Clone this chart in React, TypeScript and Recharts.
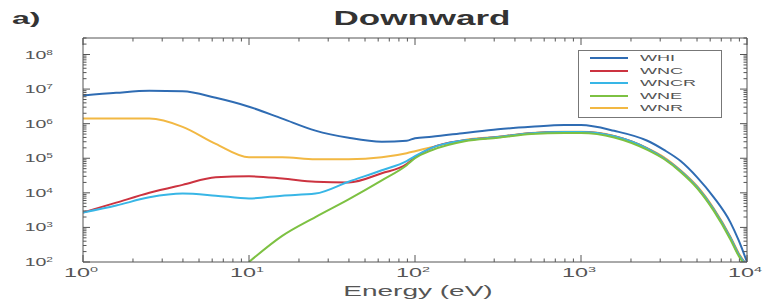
import React from 'react';
import { LineChart, Line, XAxis, YAxis, Legend } from 'recharts';

// energy grid (eV) and downward flux per model
const energy = [
  1, 1.585, 2.512, 3.981, 6.31, 10, 15.85, 25.12, 39.81, 63.1, 89.1, 100, 125.9, 199.5,
  316.2, 501.2, 794.3, 1000, 1585, 2512, 3162, 3981, 5012, 6310, 7943, 8913, 10000,
];
const fluxWHI = [
  6.5e6, 7.8e6, 8.9e6, 8.7e6, 5.6e6, 3.1e6, 1.4e6, 6.3e5, 3.9e5, 3.0e5, 3.2e5, 3.8e5, 4.2e5, 5.4e5,
  6.9e5, 8.1e5, 9.1e5, 9.1e5, 6.2e5, 3.2e5, 1.74e5, 8.3e4, 2.8e4, 7.4e3, 1.4e3, 4.2e2, 1.0e2,
];
const fluxWNC = [
  2.7e3, 5.2e3, 1.0e4, 1.7e4, 2.8e4, 3.0e4, 2.6e4, 2.1e4, 2.0e4, 3.7e4, 6.8e4, 1.07e5, 2.0e5, 3.3e5,
  4.1e5, 5.3e5, 5.7e5, 5.7e5, 4.3e5, 1.9e5, 1.0e5, 4.3e4, 1.45e4, 3.3e3, 5.0e2, 1.65e2, 8.0e1,
];
const fluxWNCR = [
  2.7e3, 4.3e3, 7.4e3, 9.5e3, 8.3e3, 6.9e3, 8.3e3, 9.5e3, 2.1e4, 4.5e4, 8.3e4, 1.15e5, 2.0e5, 3.3e5,
  4.1e5, 5.3e5, 5.7e5, 5.7e5, 4.3e5, 1.9e5, 1.0e5, 4.3e4, 1.45e4, 3.3e3, 5.0e2, 1.65e2, 8.0e1,
];
const fluxWNE = [
  null, null, null, null, null, 1.0e2, 5.7e2, 2.0e3, 6.5e3, 2.3e4, 6.3e4, 1.0e5, 1.7e5, 3.1e5,
  3.9e5, 5.0e5, 5.4e5, 5.4e5, 4.0e5, 1.75e5, 9.5e4, 4.0e4, 1.35e4, 3.0e3, 4.5e2, 1.5e2, 7.0e1,
];
const fluxWNR = [
  1.4e6, 1.4e6, 1.4e6, 8.1e5, 2.6e5, 1.07e5, 1.07e5, 9.4e4, 9.4e4, 1.07e5, 1.4e5, 1.6e5, 2.1e5, 3.4e5,
  4.2e5, 5.4e5, 5.8e5, 5.8e5, 4.4e5, 1.95e5, 1.07e5, 4.5e4, 1.55e4, 3.5e3, 5.4e2, 1.8e2, 8.0e1,
];

const seriesNames = ['WHI', 'WNC', 'WNCR', 'WNE', 'WNR'];
const seriesColors = ['#2f6cb3', '#cc3340', '#38b6e6', '#7dc142', '#f2b843'];
const seriesValues = [fluxWHI, fluxWNC, fluxWNCR, fluxWNE, fluxWNR];
// drawing order: WHI last so it sits on top
const drawOrder = [4, 1, 2, 3, 0];

const xDecades = [0, 1, 2, 3, 4];
const yDecades = [2, 3, 4, 5, 6, 7, 8];

const data = energy.map((e, i) => {
  const row: any = { energy: e };
  seriesNames.forEach((n, k) => (row[n] = seriesValues[k][i]));
  return row;
});

function logTicks(decades: number[], extra: number[] = []) {
  const out: number[] = [];
  decades.forEach((d, i) => {
    const base = Math.pow(10, d);
    out.push(base);
    if (i < decades.length - 1) for (let m = 2; m <= 9; m++) out.push(m * base);
  });
  return out.concat(extra);
}
const xTicks = logTicks(xDecades);
const yTicks = logTicks(yDecades, [2e8, 3e8]);

const FONT = '"Liberation Sans", Arial, sans-serif';
const AXIS = '#555';

const isMajor = (v: number) => Math.abs(Math.log10(v) - Math.round(Math.log10(v))) < 1e-6;
const expOf = (v: number) => Math.round(Math.log10(v));

function BottomTick(props: any) {
  const { x, y, payload } = props;
  const v = payload.value;
  const major = isMajor(v);
  return (
    <g>
      <line x1={x} y1={y} x2={x} y2={y - (major ? 7 : 3.5)} stroke={AXIS} />
      {major && (
        <text transform={`translate(${x - 2},${y + 15}) scale(1.8,1)`} textAnchor="middle" fontSize={13} fill="#555" fontFamily={FONT}>
          10<tspan dy={-5} fontSize={8}>{expOf(v)}</tspan>
        </text>
      )}
    </g>
  );
}

function TopTick(props: any) {
  const { x, y, payload } = props;
  const major = isMajor(payload.value);
  return <line x1={x} y1={y} x2={x} y2={y + (major ? 7 : 3.5)} stroke={AXIS} />;
}

function LeftTick(props: any) {
  const { x, y, payload } = props;
  const v = payload.value;
  const major = isMajor(v);
  return (
    <g>
      <line x1={x} y1={y} x2={x + (major ? 7 : 3.5)} y2={y} stroke={AXIS} />
      {major && (
        <text transform={`translate(${x - 30},${y + 4}) scale(1.7,1)`} textAnchor="end" fontSize={11.5} fill="#555" fontFamily={FONT}>
          10<tspan dy={-4} fontSize={7}>{expOf(v)}</tspan>
        </text>
      )}
    </g>
  );
}

function RightTick(props: any) {
  const { x, y, payload } = props;
  const major = isMajor(payload.value);
  return <line x1={x} y1={y} x2={x - (major ? 7 : 3.5)} y2={y} stroke={AXIS} />;
}

function LegendBox() {
  return (
    <div style={{ width: 144, height: 68, border: '1px solid #777', boxSizing: 'border-box', background: '#fff', position: 'relative' }}>
      {seriesNames.map((n, i) => (
        <div key={n} style={{ position: 'absolute', left: 0, top: 1 + i * 12.5, height: 12, width: '100%' }}>
          <svg width={60} height={12} style={{ position: 'absolute', left: 0, top: 0 }}>
            <line x1={11} x2={49} y1={6} y2={6} stroke={seriesColors[i]} strokeWidth={2} />
          </svg>
          <span
            style={{
              position: 'absolute', left: 61, top: 0, fontSize: 9.5, lineHeight: '12px', color: '#555',
              fontFamily: FONT, transform: 'scaleX(1.9)', transformOrigin: 'left center', whiteSpace: 'nowrap',
            }}
          >
            {n}
          </span>
        </div>
      ))}
    </div>
  );
}

export default function App() {
  return (
    <div style={{ position: 'absolute', left: 0, top: 0, width: 765, height: 304, background: '#fff', fontFamily: FONT }}>
      <LineChart width={765} height={304} data={data} margin={{ top: 28, right: 8, bottom: 12, left: 40 }}>
        <XAxis
          dataKey="energy"
          type="number"
          scale="log"
          domain={[1, 10000]}
          allowDataOverflow
          ticks={xTicks}
          interval={0}
          tick={BottomTick}
          tickSize={0}
          tickMargin={0}
          tickLine={false}
          height={30}
          axisLine={{ stroke: AXIS }}
        />
        <XAxis
          xAxisId="top"
          orientation="top"
          dataKey="energy"
          type="number"
          scale="log"
          domain={[1, 10000]}
          allowDataOverflow
          ticks={xTicks}
          interval={0}
          tick={TopTick}
          tickSize={0}
          tickMargin={0}
          tickLine={false}
          height={10}
          axisLine={{ stroke: AXIS }}
        />
        <YAxis
          type="number"
          scale="log"
          domain={[100, 3e8]}
          allowDataOverflow
          ticks={yTicks}
          interval={0}
          tick={LeftTick}
          tickSize={0}
          tickMargin={0}
          tickLine={false}
          width={43}
          axisLine={{ stroke: AXIS }}
        />
        <YAxis
          yAxisId="right"
          orientation="right"
          type="number"
          scale="log"
          domain={[100, 3e8]}
          allowDataOverflow
          ticks={yTicks}
          interval={0}
          tick={RightTick}
          tickSize={0}
          tickMargin={0}
          tickLine={false}
          width={10}
          axisLine={{ stroke: AXIS }}
        />
        {drawOrder.map((k) => (
          <Line
            key={seriesNames[k]}
            dataKey={seriesNames[k]}
            name={seriesNames[k]}
            stroke={seriesColors[k]}
            strokeWidth={2}
            type="monotone"
            dot={false}
            activeDot={false}
            connectNulls={false}
            isAnimationActive={false}
          />
        ))}
        <Legend
          layout="horizontal"
          verticalAlign="middle"
          align="center"
          content={() => <LegendBox />}
          wrapperStyle={{ position: 'absolute', left: 578, top: 50, width: 144, height: 68, margin: 0, padding: 0 }}
        />
      </LineChart>
      <div style={{ position: 'absolute', left: 12, top: 10, fontSize: 16, fontWeight: 'bold', color: '#333', transform: 'scaleX(2)', transformOrigin: 'left top' }}>
        a)
      </div>
      <div style={{ position: 'absolute', left: 422, top: 7, fontSize: 20, fontWeight: 'bold', color: '#333', whiteSpace: 'nowrap', transform: 'translateX(-50%) scaleX(1.75)' }}>
        Downward
      </div>
      <div style={{ position: 'absolute', left: 418, top: 283, fontSize: 14, lineHeight: '17px', color: '#555', whiteSpace: 'nowrap', transform: 'translateX(-50%) scaleX(2)' }}>
        Energy (eV)
      </div>
    </div>
  );
}
